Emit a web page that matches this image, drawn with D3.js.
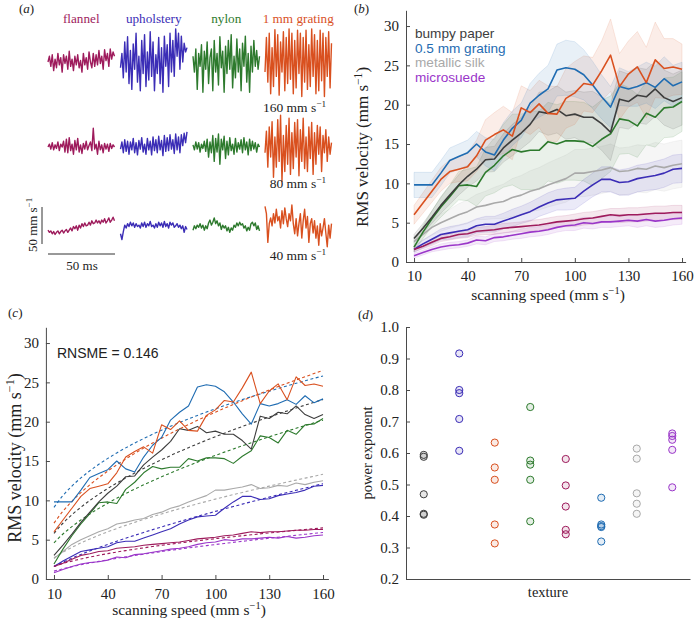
<!DOCTYPE html>
<html><head><meta charset="utf-8">
<script src="https://cdn.jsdelivr.net/npm/d3@7"></script>
<style>body{margin:0;background:#fff} svg{display:block}</style>
</head><body>
<svg id="chart" width="694" height="619"></svg>
<script>
// ---------------- DATA ----------------
const speeds = [10,15,20,25,30,35,40,45,50,55,60,65,70,75,80,85,90,95,100,105,110,115,120,125,130,135,140,145,150,155,160];
const speedTicks = [10,40,70,100,130,160];
const rmsTicks = [0,5,10,15,20,25,30];
const expTicks = [0.2,0.3,0.4,0.5,0.6,0.7,0.8,0.9,1.0];

const textureNames = ["bumpy paper","upholstery","1 mm grating","nylon","flannel","0.5 mm grating","metallic silk","microsuede"];
const textureColors = ["#3d3d3d","#3b2db6","#d9501f","#2d7a2d","#9e1b5c","#1f6cb2","#a9a9a9","#9a36c9"];

// RMS velocity (mm/s) per scanning speed
const rmsBumpy   = [3.0,4.3,5.7,7.2,8.5,9.8,10.9,11.8,13.0,13.1,14.5,15.5,16.4,17.5,19.1,18.9,19.4,18.6,18.8,18.4,18.4,17.6,16.5,20.7,20.4,21.2,21.0,22.0,20.9,20.4,20.9];
const rmsUph     = [1.6,2.3,2.9,3.5,3.7,3.9,4.1,4.6,4.8,4.8,5.2,5.6,6.0,6.4,7.0,7.5,7.9,8.0,8.1,9.0,9.8,10.5,10.5,10.1,10.2,10.6,10.8,11.0,11.3,11.8,11.9];
const rms1mm     = [6.0,7.5,9.0,10.5,11.5,11.8,12.1,13.5,15.5,16.2,16.8,16.0,19.6,19.0,20.1,18.9,18.8,20.8,21.5,22.7,22.5,24.3,26.3,22.3,23.9,24.8,22.8,25.7,24.6,24.8,24.5];
const rmsNylon   = [1.9,3.8,5.5,7.0,8.3,9.7,9.8,9.6,11.4,12.3,13.5,14.3,14.0,14.2,14.2,15.3,15.0,15.4,15.4,15.3,14.7,15.6,16.3,18.2,18.0,17.3,18.9,18.4,19.6,19.7,20.4];
const rmsFlannel = [1.6,2.0,2.5,3.0,3.2,3.5,3.6,3.9,4.0,4.1,4.3,4.4,4.5,4.6,4.7,4.9,5.1,5.2,5.3,5.5,5.6,5.8,6.0,5.9,6.0,6.0,6.1,6.2,6.2,6.3,6.3];
const rms05      = [9.8,9.8,9.8,11.3,12.9,13.4,13.9,15.0,14.0,13.6,15.5,17.0,18.0,20.2,21.2,22.0,24.4,24.7,24.5,23.8,22.5,21.0,19.7,22.3,22.0,22.3,22.8,22.2,23.3,22.4,22.9];
const rmsSilk    = [2.6,3.5,4.4,5.0,5.5,6.0,6.4,7.0,7.2,7.5,7.7,8.2,8.5,9.0,9.3,9.8,10.2,10.6,11.3,11.3,11.5,11.7,12.0,11.5,11.6,11.9,11.8,12.2,12.0,12.3,12.5];
const rmsMicro   = [0.8,1.2,1.6,1.9,2.1,2.2,2.4,2.8,2.7,3.1,3.2,3.4,3.6,3.8,3.9,4.1,4.4,4.6,4.7,5.0,4.9,5.1,5.1,5.2,5.3,5.2,5.4,5.2,5.3,5.5,5.6];

// spread (shaded band half-width)
const sdBumpy   = [0.5,0.6,0.8,1.0,1.2,1.3,1.4,1.5,1.6,1.6,1.8,2.0,2.0,2.2,2.5,2.8,3.0,3.0,3.0,3.2,3.3,3.4,3.6,3.6,3.5,3.5,3.5,3.5,3.5,3.5,3.5];
const sdUph     = [0.4,0.5,0.6,0.7,0.8,0.8,0.9,0.9,1.0,1.0,1.0,1.1,1.1,1.2,1.2,1.3,1.3,1.4,1.4,1.5,1.5,1.6,1.6,1.6,1.7,1.7,1.7,1.8,1.8,1.8,1.8];
const sd1mm     = [1.2,1.3,1.4,1.5,1.5,1.6,1.8,2.0,2.6,2.8,3.0,3.0,2.8,2.8,3.0,3.5,3.5,3.8,4.0,3.5,3.5,3.8,4.6,4.2,4.2,4.5,4.5,4.8,3.8,3.6,3.2];
const sdNylon   = [0.6,0.8,1.0,1.3,1.5,1.8,2.0,2.5,3.0,3.5,4.0,4.5,4.8,5.0,5.0,5.0,5.0,5.0,5.0,5.0,5.0,5.0,4.8,4.5,4.2,4.0,4.0,3.8,3.8,3.8,3.8];
const sdFlannel = [0.3,0.3,0.4,0.4,0.4,0.5,0.5,0.5,0.5,0.6,0.6,0.6,0.6,0.7,0.7,0.7,0.7,0.7,0.8,0.8,0.8,0.8,0.8,0.9,0.9,0.9,0.9,0.9,0.9,0.9,0.9];
const sd05      = [1.6,1.6,1.6,1.6,1.6,1.6,1.6,1.6,1.8,2.0,2.2,2.2,2.2,2.5,2.8,3.0,3.3,3.5,3.5,3.2,3.0,2.8,2.6,2.4,2.2,2.5,2.6,2.7,2.8,2.6,2.5];
const sdSilk    = [0.6,0.8,1.0,1.1,1.2,1.4,1.5,1.6,1.8,2.0,2.2,2.4,2.5,2.6,2.7,2.8,2.9,3.0,3.0,3.0,3.0,3.0,3.0,3.0,3.0,3.0,3.0,3.0,3.0,3.0,3.0];
const sdMicro   = [0.3,0.3,0.3,0.4,0.4,0.4,0.4,0.5,0.5,0.5,0.5,0.5,0.6,0.6,0.6,0.6,0.6,0.6,0.7,0.7,0.7,0.7,0.7,0.7,0.7,0.8,0.8,0.8,0.8,0.8,0.8];

// power-law fits (RMS = coef * speed ^ exponent), panel (c)
const fitCoef     = [1.86,0.298,2.38,1.35,0.501,3.83,0.719,0.23];
const fitExponent = [0.494,0.73,0.475,0.533,0.505,0.376,0.575,0.64];

// panel (d) power exponents per texture (5 subjects)
const expBumpy   = [0.594,0.588,0.469,0.407,0.404];
const expUph     = [0.916,0.800,0.790,0.708,0.607];
const exp1mm     = [0.633,0.554,0.515,0.373,0.313];
const expNylon   = [0.746,0.576,0.563,0.515,0.383];
const expFlannel = [0.581,0.497,0.430,0.356,0.342];
const exp05      = [0.458,0.373,0.368,0.365,0.319];
const expSilk    = [0.614,0.582,0.472,0.439,0.407];
const expMicro   = [0.662,0.654,0.642,0.610,0.491];

// panel (a) example velocity traces (mm/s), 50 ms each
const traceTextures = ["flannel","upholstery","nylon","1 mm grating"];
const traceColors = ["#9e1b5c","#3b2db6","#2d7a2d","#d9501f"];
const traceSpeedLabels = ["160","80","40"];
const flannel160 = [0,8,-6,10,-12,4,-8,12,-4,6,-14,10,-2,8,-10,15,-6,4,-12,8,-4,10,-8,2,-14,12,-4,6,-10,14,0,-8,12,-6,10,-4,16,-2,8,-10,17,2,12,-6,18,4,14,8];
const uph160 = [-8,12,-22,28,-14,35,-30,16,-38,25,-10,40,-28,8,-40,30,-16,38,-34,14,-25,42,-20,28,-40,10,-16,34,-30,20,-42,36,-6,24,-34,40,-14,30,-20,46,8,40,-10,36,0,26,14,20];
const nylon160 = [8,-14,18,-38,12,-6,24,-42,15,-10,28,-30,6,18,-40,30,-14,12,-32,35,-8,15,-42,22,-16,30,-10,38,-36,8,-22,32,-14,18,-40,26,-6,36,-28,12,-42,22,-14,30,-6,16,-10,8];
const grating160 = [-14,34,-28,40,-44,20,-34,45,-20,38,-46,28,-14,42,-40,34,-30,46,-24,40,-44,30,-36,44,-16,40,-48,34,-28,44,-38,24,-34,46,-20,38,-44,30,-40,44,-26,40,-48,34,-20,42,-36,26];
const flannel80 = [0,4,-3,6,-4,3,-2,7,-5,4,0,8,-7,11,-8,13,-5,4,-10,9,-4,12,-7,3,-9,5,-3,8,-4,2,7,-5,26,-3,4,-10,8,-4,3,-8,5,-3,4,-6,5,-2,3,0];
const uph80 = [-3,7,-8,10,-6,8,-10,7,-4,12,-8,6,-11,9,-3,13,-7,4,-10,12,-4,8,-11,14,-5,10,-8,15,-4,9,-12,16,-6,13,-5,17,-3,10,-9,18,-4,14,-8,17,2,19,6,21];
const nylon80 = [3,-4,7,-3,6,-7,4,-2,8,-6,11,-14,7,-8,16,-20,12,-7,18,-24,11,-4,15,-16,8,-11,13,-5,4,-10,12,-7,6,-3,10,-8,13,-4,7,-11,11,-5,8,-3,6,-7,4,0];
const grating80 = [-8,22,-28,28,-14,35,-42,14,-28,38,-20,44,-48,16,-34,30,-24,40,-38,20,-30,34,-14,38,-40,24,-20,40,-30,14,-34,28,-16,34,-38,20,-24,30,-10,28,-34,16,-8,24,-20,14,-10,6];
const flannel40 = [-3,-6,-4,-8,-5,-9,-6,-4,-8,-5,-3,-7,-4,-2,-6,-3,0,-4,2,-1,3,-3,4,0,6,2,7,3,4,8,4,10,6,7,11,7,10,6,11,8,13,7,10,14,8,11,15,10];
const uph40 = [-8,-16,-5,4,0,6,2,8,3,7,1,6,2,4,0,7,2,8,1,6,3,9,2,4,0,6,1,8,3,7,1,9,2,6,0,8,4,7,1,3,6,1,4,-1,3,-6,2,-2];
const nylon40 = [-3,3,-1,4,1,6,0,4,-3,3,-1,7,11,4,8,14,6,10,3,7,-2,4,0,3,-4,1,-6,0,-3,4,1,7,3,8,4,6,0,3,-4,1,-3,6,8,3,7,-2,3,-4];
const grating40 = [30,20,-20,6,14,3,20,7,26,10,16,0,24,6,28,13,2,20,10,32,6,-8,13,-11,6,20,-14,10,26,0,16,-20,6,13,-7,10,-14,3,-24,6,-11,0,13,-7,-26,4,-14,6];

// ---------------- BUILD ----------------
const rmsSeries = [rmsBumpy,rmsUph,rms1mm,rmsNylon,rmsFlannel,rms05,rmsSilk,rmsMicro];
const sdSeries  = [sdBumpy,sdUph,sd1mm,sdNylon,sdFlannel,sd05,sdSilk,sdMicro];
const expSeries = [expBumpy,expUph,exp1mm,expNylon,expFlannel,exp05,expSilk,expMicro];
const traces = [[flannel160,uph160,nylon160,grating160],[flannel80,uph80,nylon80,grating80],[flannel40,uph40,nylon40,grating40]];

const svg = d3.select("#chart");
const SERIF = "'Liberation Serif','Times New Roman',serif";
const SANS = "'Liberation Sans',Arial,sans-serif";
const AX = "#4a4a4a";

function supText(g, x, y, before, sup, after, opts = {}) {
  const size = opts.size || 14;
  const t = g.append("text").attr("x", x).attr("y", y)
    .attr("font-family", opts.family || SERIF).attr("font-size", size)
    .attr("fill", opts.fill || "#222").attr("text-anchor", opts.anchor || "middle");
  if (opts.rotate) t.attr("transform", `rotate(-90,${x},${y})`);
  t.append("tspan").text(before);
  t.append("tspan").attr("dy", -size * 0.38).attr("font-size", size * 0.68).text(sup);
  if (after) t.append("tspan").attr("dy", size * 0.38).text(after);
  return t;
}
function styleAxis(g) {
  g.select(".domain").attr("stroke", AX).attr("stroke-width", 1);
  g.selectAll(".tick line").attr("stroke", AX);
  g.selectAll(".tick text").attr("font-family", SERIF).attr("font-size", 15).attr("fill", "#222");
}
function panelLetter(x, y, l) {
  const t = svg.append("text").attr("x", x).attr("y", y).attr("font-family", SERIF).attr("font-size", 13).attr("fill", "#222");
  t.append("tspan").text("(");
  t.append("tspan").attr("font-style", "italic").text(l);
  t.append("tspan").text(")");
}

// ---------- Panel (a) ----------
{
  const g = svg.append("g");
  panelLetter(19, 13, "a");
  const colX = [48, 120.5, 193, 265];
  const colW = 66.5;
  const rowY = [62, 147, 228];
  const halfPx = 18; // 25 mm/s = 18 px
  traceTextures.forEach((name, c) => {
    g.append("text").attr("x", colX[c] + colW / 2).attr("y", 23).attr("text-anchor", "middle")
      .attr("font-family", SERIF).attr("font-size", 13.2).attr("fill", traceColors[c]).text(name);
  });
  traces.forEach((row, r) => {
    row.forEach((vals, c) => {
      const x = d3.scaleLinear().domain([0, vals.length - 1]).range([colX[c], colX[c] + colW]);
      const y = d3.scaleLinear().domain([-25, 25]).range([rowY[r] + halfPx, rowY[r] - halfPx]);
      g.append("path").datum(vals)
        .attr("d", d3.line().x((d, i) => x(i)).y(d => y(d)))
        .attr("fill", "none").attr("stroke", traceColors[c]).attr("stroke-width", 1.4)
        .attr("stroke-linejoin", "round");
    });
  });
  const speedY = [112, 188, 260];
  traceSpeedLabels.forEach((s, r) => {
    supText(g, 326, speedY[r], s + " mm s", "\u22121", null, { anchor: "end", size: 13.5 });
  });
  // scale bars
  g.append("line").attr("x1", 42).attr("x2", 42).attr("y1", 207).attr("y2", 244).attr("stroke", "#333").attr("stroke-width", 1);
  g.append("line").attr("x1", 48).attr("x2", 115).attr("y1", 254).attr("y2", 254).attr("stroke", "#333").attr("stroke-width", 1);
  g.append("text").attr("x", 82).attr("y", 270).attr("text-anchor", "middle").attr("font-family", SERIF).attr("font-size", 13).attr("fill", "#222").text("50 ms");
  supText(g, 37, 225, "50 mm s", "\u22121", null, { rotate: true, size: 13 });
}

// ---------- Panel (b) ----------
{
  const g = svg.append("g");
  panelLetter(354, 13, "b");
  const x = d3.scaleLinear().domain([5.5, 162]).range([406, 685.6]);
  const y = d3.scaleLinear().domain([0, 32]).range([262, 10.3]);
  const drawOrder = [6, 3, 0, 2, 5, 1, 4, 7];
  drawOrder.forEach(k => {
    const m = rmsSeries[k], s = sdSeries[k];
    const area = d3.area().x((d, i) => x(speeds[i])).y0((d, i) => y(m[i] - s[i])).y1((d, i) => y(m[i] + s[i]));
    g.append("path").datum(m).attr("d", area).attr("fill", textureColors[k]).attr("fill-opacity", 0.1)
      .attr("stroke", textureColors[k]).attr("stroke-opacity", 0.12).attr("stroke-width", 1);
  });
  const lineOrder = [6, 1, 4, 7, 3, 0, 5, 2];
  lineOrder.forEach(k => {
    g.append("path").datum(rmsSeries[k])
      .attr("d", d3.line().x((d, i) => x(speeds[i])).y(d => y(d)))
      .attr("fill", "none").attr("stroke", textureColors[k]).attr("stroke-width", 1.6).attr("stroke-linejoin", "round");
  });
  const ya = g.append("g").attr("transform", "translate(406,0)")
    .call(d3.axisLeft(y).tickValues(rmsTicks).tickSize(-4).tickSizeOuter(0).tickPadding(7));
  styleAxis(ya);
  const xa = g.append("g").attr("transform", "translate(0,262)")
    .call(d3.axisBottom(x).tickValues(speedTicks).tickSize(-4).tickSizeOuter(0).tickPadding(8));
  styleAxis(xa);
  supText(g, 368, 147, "RMS velocity (mm s", "\u22121", ")", { rotate: true, size: 17 });
  supText(g, 548, 300, "scanning speed (mm s", "\u22121", ")", { size: 15.5 });
  const legendIdx = [0, 5, 6, 7];
  legendIdx.forEach((k, i) => {
    g.append("text").attr("x", 415).attr("y", 38 + i * 14.7).attr("font-family", SANS).attr("font-size", 13.6)
      .attr("fill", textureColors[k]).text(textureNames[k]);
  });
}

// ---------- Panel (c) ----------
{
  const g = svg.append("g");
  panelLetter(8, 317, "c");
  const x = d3.scaleLinear().domain([5.5, 163]).range([45.9, 328.4]);
  const y = d3.scaleLinear().domain([0, 32]).range([579, 327.3]);
  const lineOrder = [6, 1, 4, 7, 3, 0, 5, 2];
  lineOrder.forEach(k => {
    const fitVals = speeds.map(s => fitCoef[k] * Math.pow(s, fitExponent[k]));
    g.append("path").datum(fitVals)
      .attr("d", d3.line().x((d, i) => x(speeds[i])).y(d => y(d)).curve(d3.curveMonotoneX))
      .attr("fill", "none").attr("stroke", textureColors[k]).attr("stroke-width", 1.1).attr("stroke-dasharray", "3,2.5");
  });
  lineOrder.forEach(k => {
    g.append("path").datum(rmsSeries[k])
      .attr("d", d3.line().x((d, i) => x(speeds[i])).y(d => y(d)))
      .attr("fill", "none").attr("stroke", textureColors[k]).attr("stroke-width", 1.1).attr("stroke-linejoin", "round");
  });
  const ya = g.append("g").attr("transform", "translate(45.9,0)")
    .call(d3.axisLeft(y).tickValues(rmsTicks).tickSize(-4).tickSizeOuter(0).tickPadding(7));
  styleAxis(ya);
  const xa = g.append("g").attr("transform", "translate(0,579)")
    .call(d3.axisBottom(x).tickValues(speedTicks).tickSize(-4).tickSizeOuter(0).tickPadding(9));
  styleAxis(xa);
  supText(g, 21, 458, "RMS velocity (mm s", "\u22121", ")", { rotate: true, size: 18 });
  supText(g, 189, 615, "scanning speed (mm s", "\u22121", ")", { size: 15.5 });
  g.append("text").attr("x", 57).attr("y", 358).attr("font-family", SANS).attr("font-size", 14).attr("fill", "#222").text("RNSME = 0.146");
}

// ---------- Panel (d) ----------
{
  const g = svg.append("g");
  panelLetter(358, 319, "d");
  const x = d3.scalePoint().domain(textureNames).range([406, 690]).padding(0.5);
  const y = d3.scaleLinear().domain([0.2, 1.0]).range([579, 327]);
  textureNames.forEach((n, k) => {
    g.selectAll(null).data(expSeries[k]).enter().append("circle")
      .attr("cx", x(n)).attr("cy", d => y(d)).attr("r", 3.6)
      .attr("fill", textureColors[k]).attr("fill-opacity", 0.12)
      .attr("stroke", textureColors[k]).attr("stroke-width", 1);
  });
  const ya = g.append("g").attr("transform", "translate(406,0)")
    .call(d3.axisLeft(y).tickValues(expTicks).tickFormat(d3.format(".1f")).tickSize(-4).tickSizeOuter(0).tickPadding(7));
  styleAxis(ya);
  const xa = g.append("g").attr("transform", "translate(0,579)")
    .call(d3.axisBottom(x).tickValues([]).tickSizeOuter(0));
  styleAxis(xa);
  g.append("text").attr("transform", "rotate(-90,372,453)").attr("x", 372).attr("y", 453).attr("text-anchor", "middle")
    .attr("font-family", SERIF).attr("font-size", 14.5).attr("fill", "#222").text("power exponent");
  g.append("text").attr("x", 548).attr("y", 597).attr("text-anchor", "middle")
    .attr("font-family", SERIF).attr("font-size", 14.5).attr("fill", "#222").text("texture");
}
</script>
</body></html>
